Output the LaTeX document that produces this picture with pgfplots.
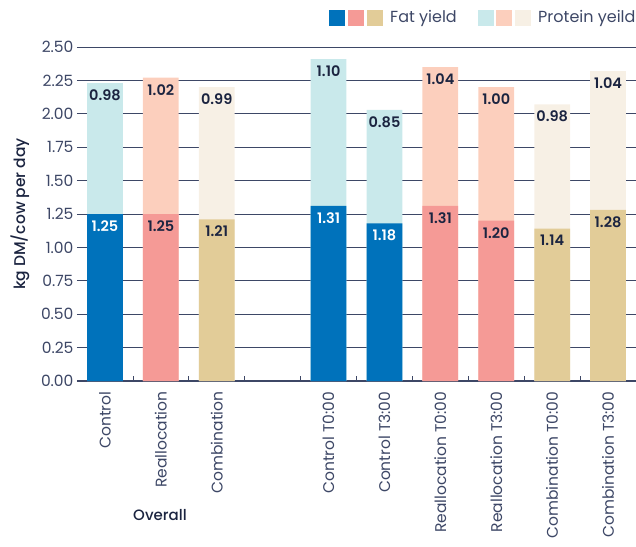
\documentclass[border=0pt]{standalone}
\usepackage{pgfplots}
\pgfplotsset{compat=1.18}
\usepackage{pgfplotstable}
\usepackage{fontspec}
\setmainfont{Poppins}[BoldFont={Poppins SemiBold}]
\newfontfamily\medfont{Poppins Medium}
\definecolor{ctrlF}{HTML}{0072BB}
\definecolor{ctrlP}{HTML}{C9E9EB}
\definecolor{realF}{HTML}{F59A96}
\definecolor{realP}{HTML}{FCCFBD}
\definecolor{combF}{HTML}{E2CC98}
\definecolor{combP}{HTML}{F7F0E5}
\definecolor{gridc}{HTML}{3D4766}
\definecolor{tickc}{HTML}{3D4766}
\definecolor{labc}{HTML}{1B2440}

\pgfplotstableread{
x fat prot plab
0 1.25 0.98 0.98
4 1.31 1.10 1.10
5 1.18 0.85 0.85
}\ctrl
\pgfplotstableread{
x fat prot plab
1 1.25 1.02 1.02
6 1.31 1.04 1.04
7 1.20 1.00 1.00
}\real
\pgfplotstableread{
x fat prot plab
2 1.21 0.99 0.99
8 1.14 0.93 0.98
9 1.28 1.04 1.04
}\comb

\begin{document}
\begin{tikzpicture}
\begin{axis}[
  at={(0,0)}, anchor=south west,
  scale only axis, width=559pt, height=334pt,
  xmin=-0.5, xmax=9.5, ymin=0, ymax=2.5,
  axis x line=bottom, axis y line=left,
  axis line style={-},
  x axis line style={draw=gridc, line width=1.2pt},
  y axis line style={draw=none},
  ytick={0,0.25,0.5,0.75,1,1.25,1.5,1.75,2,2.25,2.5},
  major tick length=0pt,
  ymajorgrids, grid style={draw=gridc, line width=0.8pt},
  /pgf/number format/assume math mode=true,
  /pgf/number format/fixed,
  /pgf/number format/fixed zerofill,
  /pgf/number format/precision=2,
  ticklabel style={font=\fontsize{15.5}{17}\selectfont, text=tickc},
  y tick label style={xshift=0pt},
  xtick={0,1,2,4,5,6,7,8,9},
  xticklabels={Control,Reallocation,Combination,Control T0:00,Control T3:00,Reallocation T0:00,Reallocation T3:00,Combination T0:00,Combination T3:00},
  x tick label style={rotate=90, anchor=east, yshift=0pt, xshift=-7pt},
  minor xtick={0.5,1.5,2.5,3.5,4.5,5.5,6.5,7.5,8.5},
  minor tick length=5pt,
  xtick align=inside,
  minor x tick style={draw=gridc, line width=0.8pt},
  nodes near coords style={anchor=north, yshift=-3pt, font=\fontsize{14.5}{15}\selectfont\bfseries, text=labc},
]
\addplot[ybar, bar width=0.64, bar shift=0pt, fill=ctrlP, draw=none, nodes near coords, point meta=explicit]
  table[x=x, y expr=\thisrow{fat}+\thisrow{prot}, meta=plab] {\ctrl};
\addplot[ybar, bar width=0.64, bar shift=0pt, fill=ctrlF, draw=none, nodes near coords, point meta=explicit,
  every node near coord/.append style={text=white}]
  table[x=x, y=fat, meta=fat] {\ctrl};
\addplot[ybar, bar width=0.64, bar shift=0pt, fill=realP, draw=none, nodes near coords, point meta=explicit]
  table[x=x, y expr=\thisrow{fat}+\thisrow{prot}, meta=plab] {\real};
\addplot[ybar, bar width=0.64, bar shift=0pt, fill=realF, draw=none, nodes near coords, point meta=explicit]
  table[x=x, y=fat, meta=fat] {\real};
\addplot[ybar, bar width=0.64, bar shift=0pt, fill=combP, draw=none, nodes near coords, point meta=explicit]
  table[x=x, y expr=\thisrow{fat}+\thisrow{prot}, meta=plab] {\comb};
\addplot[ybar, bar width=0.64, bar shift=0pt, fill=combF, draw=none, nodes near coords, point meta=explicit]
  table[x=x, y=fat, meta=fat] {\comb};
\end{axis}
% y label
\node[rotate=90, font=\medfont\fontsize{15.5}{16}\selectfont, text=labc] at (-57pt,167pt) {kg DM/cow per day};
% group label
\node[font=\medfont\fontsize{15}{16}\selectfont, text=labc] at (83pt,-134pt) {Overall};
% legend
\fill[ctrlF] (252pt,354.5pt) rectangle ++(16pt,16pt);
\fill[realF] (271pt,354.5pt) rectangle ++(16pt,16pt);
\fill[combF] (290pt,354.5pt) rectangle ++(16pt,16pt);
\node[anchor=west, inner sep=0pt, font=\fontsize{16}{17}\selectfont, text=tickc] at (313pt,362.5pt) {Fat yield};
\fill[ctrlP] (401pt,354.5pt) rectangle ++(16pt,16pt);
\fill[realP] (419pt,354.5pt) rectangle ++(16pt,16pt);
\fill[combP] (438pt,354.5pt) rectangle ++(16pt,16pt);
\node[anchor=west, inner sep=0pt, font=\fontsize{16}{17}\selectfont, text=tickc] at (461pt,362.5pt) {Protein yeild};
\pgfresetboundingbox
\path[use as bounding box] (-77pt,-165pt) rectangle (559pt,381pt);
\end{tikzpicture}
\end{document}
